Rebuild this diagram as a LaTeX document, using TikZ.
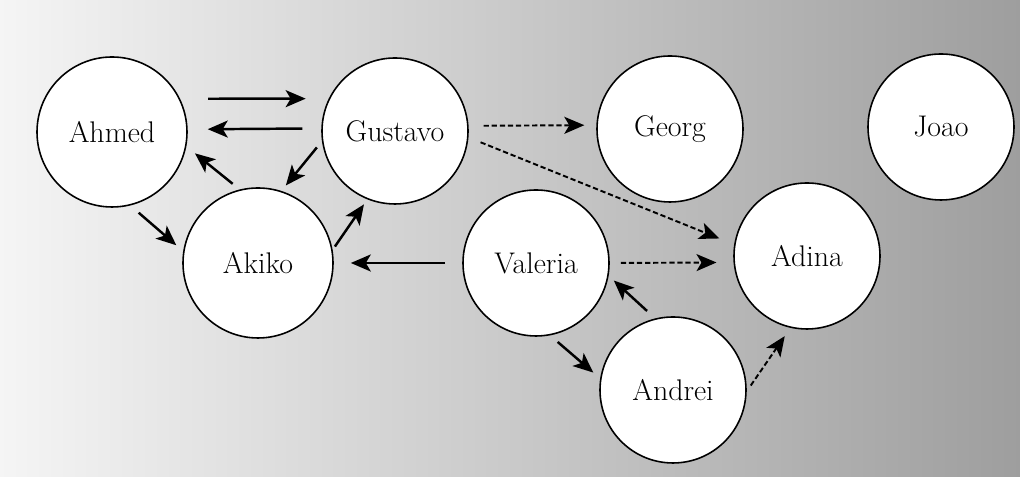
\documentclass[tikz,border=0pt]{standalone}
\usepackage{tikz}
\usetikzlibrary{arrows.meta,shapes.geometric}
\tikzstyle{person} = [circle, draw=black, fill=white, line width=0.9pt,
    minimum size=2.92cm, inner sep=0pt, font=\fontsize{17}{20}\selectfont]
\tikzstyle{arrow} = [line width=1.4pt, -{Stealth[length=0.4cm, width=0.34cm, inset=0.1cm]}]
\tikzstyle{dasharrow} = [arrow, line width=1.1pt, dash pattern=on 3pt off 1.6pt]

\begin{document}
\begin{tikzpicture}

% ── Background ────
\shade[left color=black!4, middle color=black!16, right color=black!38]
    (0,0) rectangle (20.4,9.54);
\useasboundingbox (0,0) rectangle (20.4,9.54);

% ── People ────
\node[person, minimum size=3cm] (ahmed) at (2.24,6.90) {Ahmed};
\node[person] (gustavo) at (7.90,6.92) {Gustavo};
\node[person, minimum size=3cm] (akiko) at (5.16,4.28) {Akiko};
\node[person] (georg) at (13.40,6.96) {Georg};
\node[person] (joao) at (18.82,7.00) {Joao};
\node[person] (valeria) at (10.72,4.28) {Valeria};
\node[person] (adina) at (16.14,4.42) {Adina};
\node[person] (andrei) at (13.46,1.74) {Andrei};

% ── Solid arrows ────
\draw[arrow, shorten <=0.56cm, shorten >=0.46cm] (ahmed.26) -- (gustavo.154);
\draw[arrow, shorten <=0.38cm, shorten >=0.40cm] (gustavo.178) -- (ahmed.2);
\draw[arrow, shorten <=0.18cm, shorten >=0.22cm] (akiko.104) -- (ahmed.-11);
\draw[arrow, shorten <=0.16cm, shorten >=0.14cm] (gustavo.188) -- (akiko.72);
\draw[arrow, shorten <=0.22cm, shorten >=0.18cm] (ahmed.-76) -- (akiko.171);
\draw[arrow, shorten <=0.08cm, shorten >=0.12cm] (akiko.10) -- (gustavo.248);
\draw[arrow, shorten <=0.34cm, shorten >=0.34cm] (valeria.180) -- (akiko.0);
\draw[arrow, shorten <=0.22cm, shorten >=0.14cm] (andrei.104) -- (valeria.-10);
\draw[arrow, shorten <=0.20cm, shorten >=0.18cm] (valeria.-79) -- (andrei.171);

% ── Dashed arrows ────
\draw[dasharrow, shorten <=0.30cm, shorten >=0.24cm] (gustavo.4) -- (georg.177);
\draw[dasharrow, shorten <=0.26cm, shorten >=0.32cm] (gustavo.-5) -- (adina.171);
\draw[dasharrow, shorten <=0.22cm, shorten >=0.34cm] (valeria.0) -- (adina.185);
\draw[dasharrow, shorten <=0.14cm, shorten >=0.20cm] (andrei.-1) -- (adina.257);

\end{tikzpicture}
\end{document}
